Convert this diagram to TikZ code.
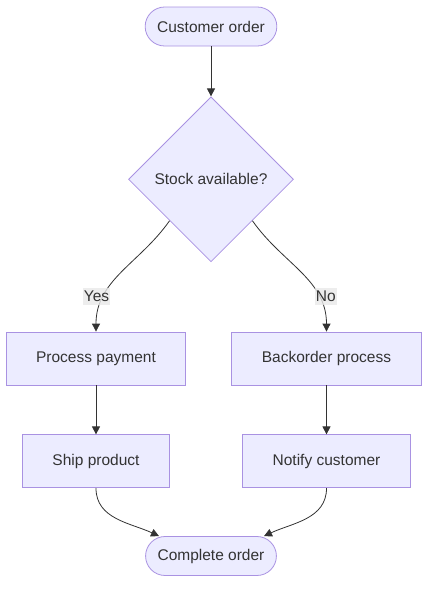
\documentclass[tikz,border=0pt]{standalone}
\usepackage{fontspec}
\setmainfont{Liberation Sans}
\usetikzlibrary{positioning,shapes.geometric,arrows.meta}
\definecolor{boxfill}{HTML}{ECECFF}
\definecolor{boxline}{HTML}{A992E2}
\definecolor{ink}{HTML}{333333}
\definecolor{lblfill}{HTML}{E8E8E8}

\begin{document}
\begin{tikzpicture}[x=1pt,y=1pt,
    b/.style={draw=boxline,fill=boxfill,text=ink,font=\fontsize{15.5}{18}\selectfont,line width=0.8pt},
    p/.style={b,rectangle,inner xsep=30pt,minimum height=53pt},
    t/.style={b,rectangle,rounded corners=19.5pt,inner xsep=12pt,minimum height=39pt},
    d/.style={b,diamond,minimum width=165pt,minimum height=165pt,inner sep=0pt},
    l/.style={fill=lblfill,fill opacity=.8,text opacity=1,text=ink,font=\fontsize{15.5}{18}\selectfont,inner xsep=1pt,inner ysep=3pt},
    e/.style={draw=ink,line width=0.8pt},
    ->,>={Triangle[length=8pt,width=8pt]}]
    \useasboundingbox (0,0) rectangle (436,-595);
    \node[t] (order) at (211,-26.5) {Customer order};
    \node[d] (stock) [below=50pt of order] {Stock available?};
    \node[p] (pay) at (96,-358.5) {Process payment};
    \node[p] (back) at (326.5,-358.5) {Backorder process};
    \node[p] (ship) [below=49pt of pay] {Ship product};
    \node[p] (notify) [below=49pt of back] {Notify customer};
    \node[t] (done) at (211,-556) {Complete order};
    \draw[e] (order) -- (stock);
    \draw[e] (stock.south west) to[out=-125,in=90] node[l,pos=.68,xshift=-11pt,yshift=-6pt] {Yes} (pay);
    \draw[e] (stock.south east) to[out=-55,in=90] node[l,pos=.68,xshift=11pt,yshift=-6pt] {No} (back);
    \draw[e] (pay) -- (ship);
    \draw[e] (back) -- (notify);
    \draw[e] (ship) to[out=-90,in=155] ([xshift=-52pt]done.north);
    \draw[e] (notify) to[out=-90,in=25] ([xshift=53pt]done.north);
\end{tikzpicture}
\end{document}
